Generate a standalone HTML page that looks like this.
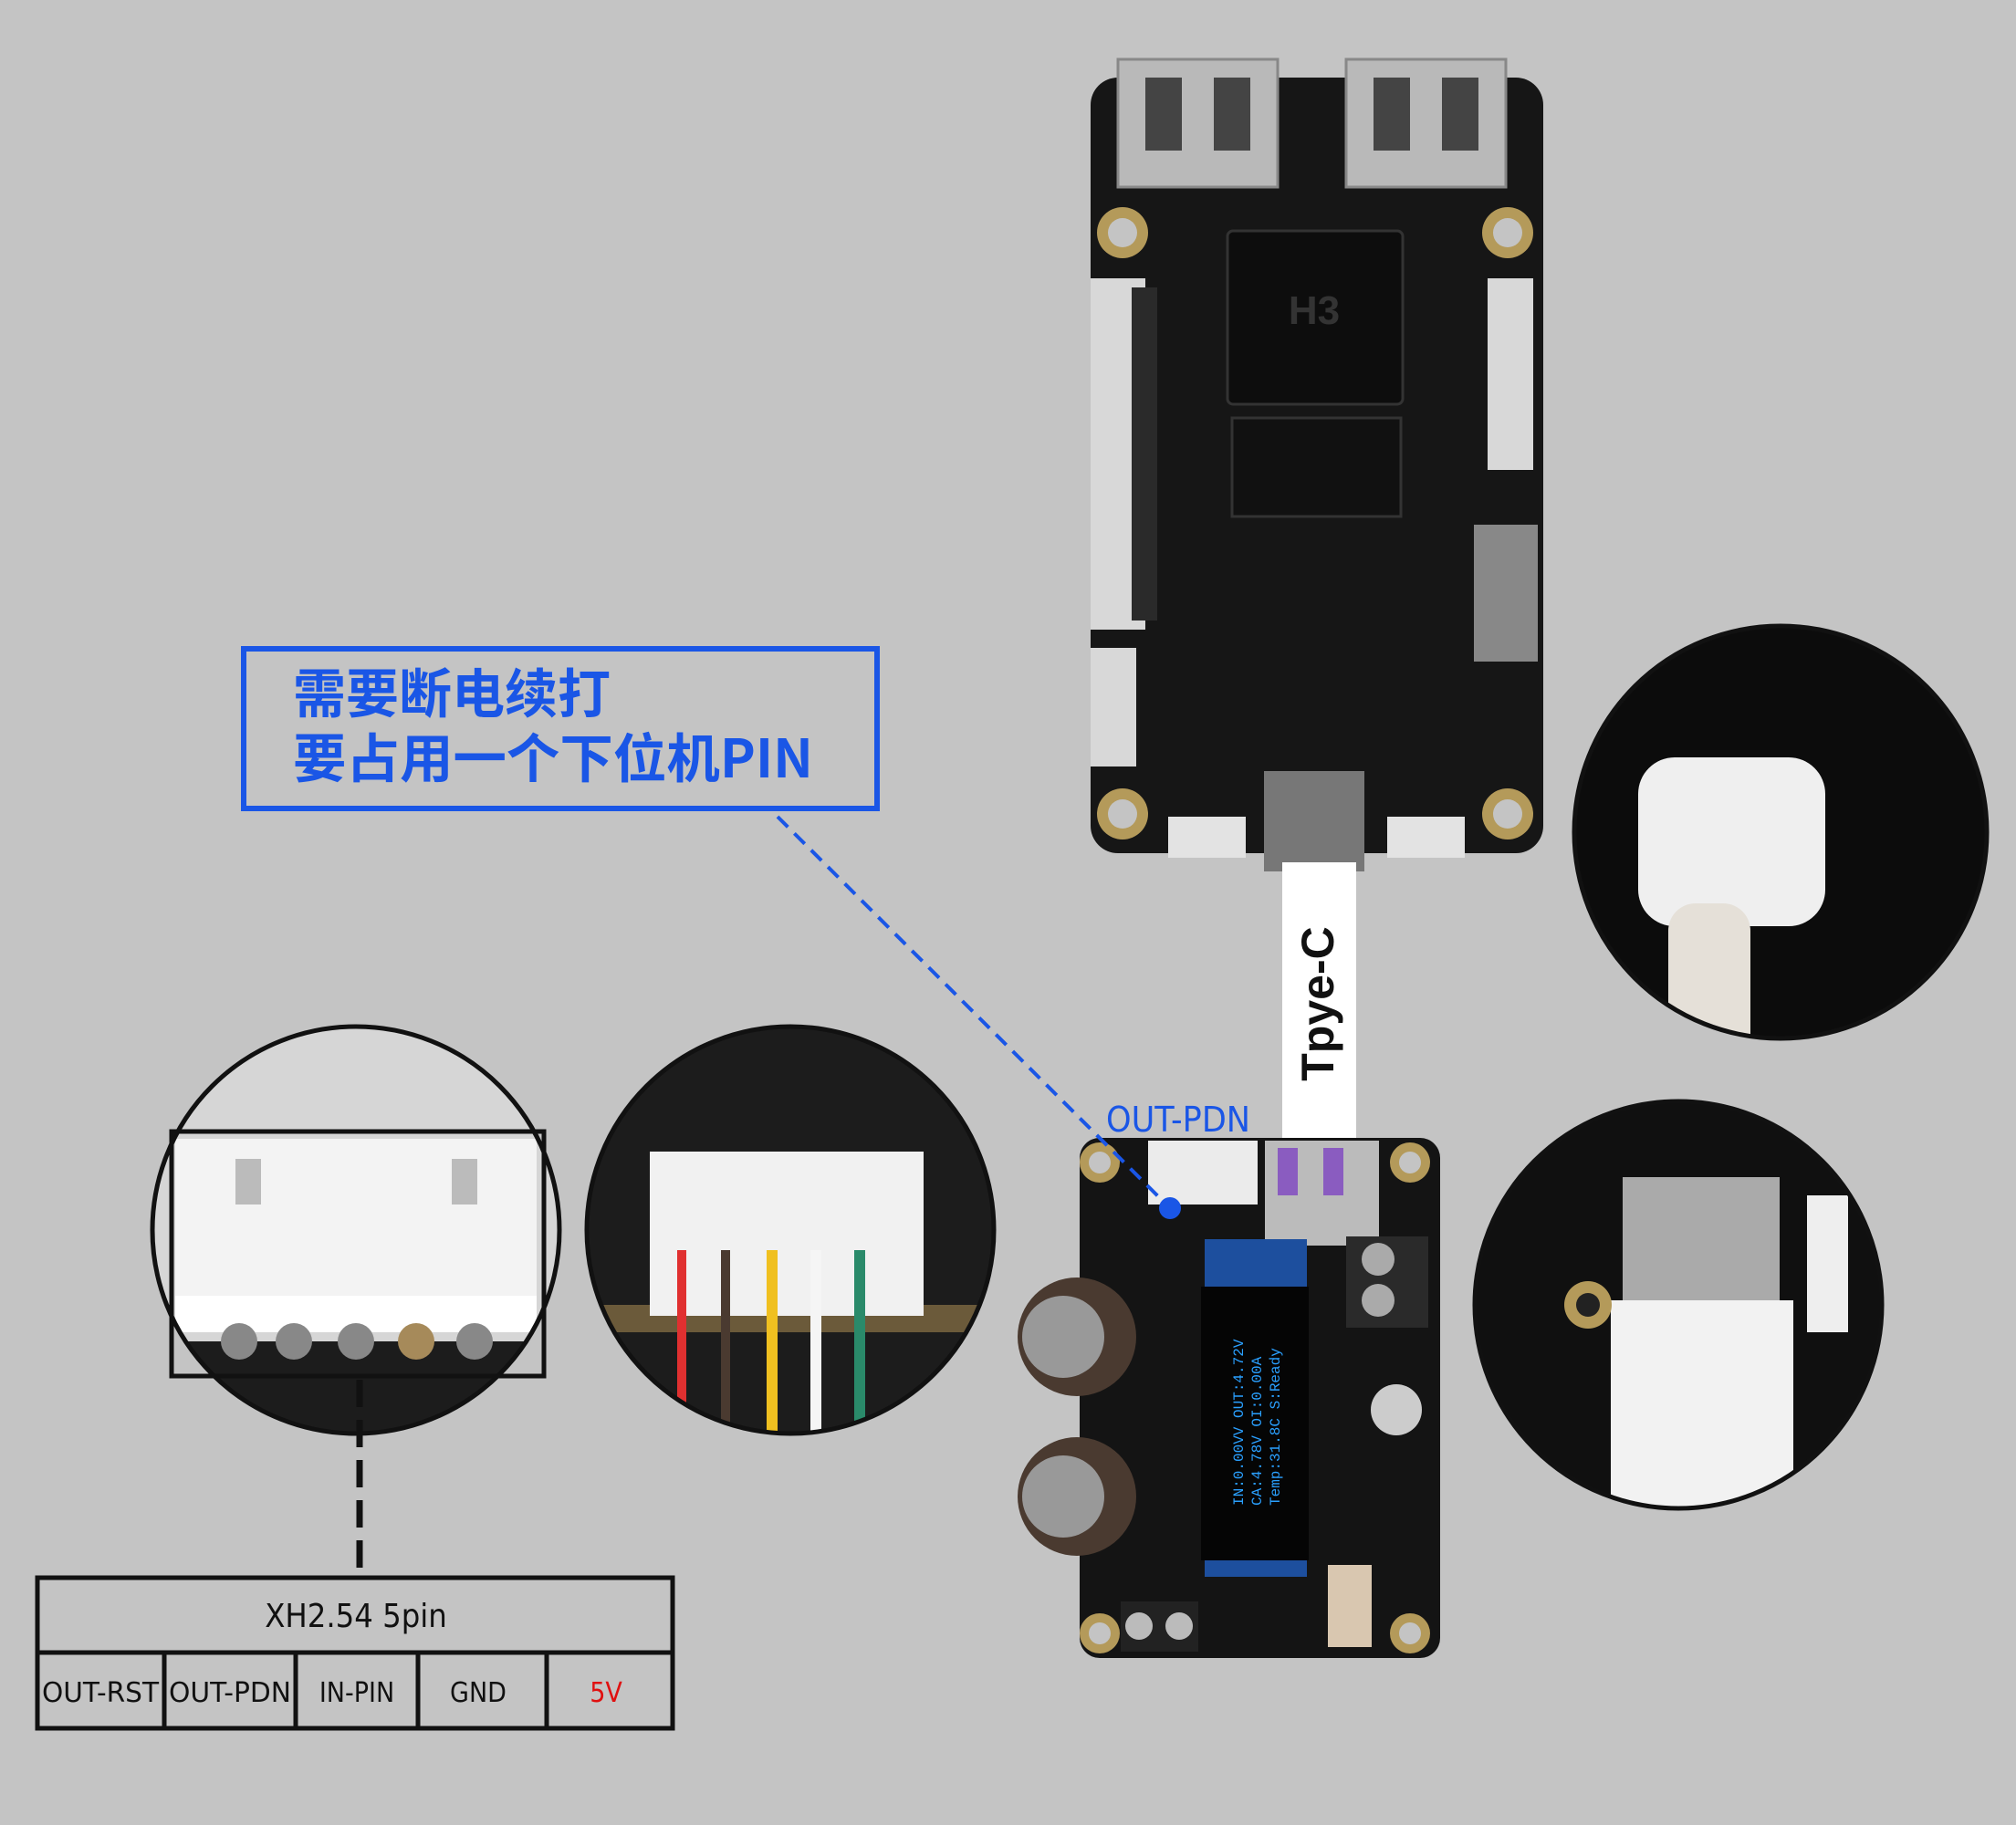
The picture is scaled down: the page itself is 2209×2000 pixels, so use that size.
<!DOCTYPE html>
<html><head><meta charset="utf-8"><style>
html,body{margin:0;padding:0;}
body{width:2209px;height:2000px;background:#c4c4c4;position:relative;overflow:hidden;font-family:"Liberation Sans","Noto Sans CJK SC",sans-serif;}
.a{position:absolute;}
</style></head><body>
<svg class="a" style="left:0;top:0" width="2209" height="2000" viewBox="0 0 2209 2000">
<defs>
<clipPath id="c1"><circle cx="390" cy="1348" r="222"/></clipPath>
<clipPath id="c2"><circle cx="866" cy="1348" r="222"/></clipPath>
<clipPath id="c3"><circle cx="1951" cy="912" r="225"/></clipPath>
<clipPath id="c4"><circle cx="1839" cy="1430" r="222"/></clipPath>
</defs>
<!-- top board -->
<rect x="1195" y="85" width="496" height="850" rx="30" fill="#161616"/>
<rect x="1225" y="65" width="175" height="140" fill="#b9b9b9" stroke="#888" stroke-width="3"/>
<rect x="1475" y="65" width="175" height="140" fill="#b9b9b9" stroke="#888" stroke-width="3"/>
<rect x="1255" y="85" width="40" height="80" fill="#444"/><rect x="1330" y="85" width="40" height="80" fill="#444"/>
<rect x="1505" y="85" width="40" height="80" fill="#444"/><rect x="1580" y="85" width="40" height="80" fill="#444"/>
<circle cx="1230" cy="255" r="28" fill="#b49a5a"/><circle cx="1230" cy="255" r="16" fill="#c4c4c4"/>
<circle cx="1652" cy="255" r="28" fill="#b49a5a"/><circle cx="1652" cy="255" r="16" fill="#c4c4c4"/>
<circle cx="1230" cy="892" r="28" fill="#b49a5a"/><circle cx="1230" cy="892" r="16" fill="#c4c4c4"/>
<circle cx="1652" cy="892" r="28" fill="#b49a5a"/><circle cx="1652" cy="892" r="16" fill="#c4c4c4"/>
<rect x="1195" y="305" width="60" height="385" fill="#d8d8d8"/><rect x="1240" y="315" width="28" height="365" fill="#2a2a2a"/>
<rect x="1630" y="305" width="50" height="210" fill="#d8d8d8"/>
<rect x="1195" y="710" width="50" height="130" fill="#d8d8d8"/>
<rect x="1345" y="253" width="192" height="190" rx="6" fill="#0d0d0d" stroke="#333" stroke-width="3"/>
<text x="1440" y="355" font-size="44" font-weight="bold" fill="#333" text-anchor="middle">H3</text>
<rect x="1350" y="458" width="185" height="108" fill="#111" stroke="#333" stroke-width="3"/>
<rect x="1615" y="575" width="70" height="150" fill="#888"/>
<rect x="1385" y="845" width="110" height="110" fill="#777"/>
<rect x="1280" y="895" width="85" height="45" fill="#e3e3e3"/><rect x="1520" y="895" width="85" height="45" fill="#e3e3e3"/>
<!-- cable -->
<rect x="1405" y="945" width="81" height="302" fill="#fff"/>
<text transform="translate(1461,1100) rotate(-90)" font-size="50" font-weight="bold" fill="#111" text-anchor="middle">Tpye-C</text>
<!-- bottom board -->
<rect x="1183" y="1247" width="395" height="570" rx="22" fill="#141414"/>
<rect x="1258" y="1250" width="120" height="70" fill="#ebebeb"/>
<rect x="1386" y="1250" width="125" height="115" fill="#bbb"/>
<rect x="1400" y="1258" width="22" height="52" fill="#8a5cc0"/><rect x="1450" y="1258" width="22" height="52" fill="#8a5cc0"/>
<circle cx="1205" cy="1274" r="22" fill="#b49a5a"/><circle cx="1205" cy="1274" r="12" fill="#c4c4c4"/>
<circle cx="1545" cy="1274" r="22" fill="#b49a5a"/><circle cx="1545" cy="1274" r="12" fill="#c4c4c4"/>
<circle cx="1205" cy="1790" r="22" fill="#b49a5a"/><circle cx="1205" cy="1790" r="12" fill="#c4c4c4"/>
<circle cx="1545" cy="1790" r="22" fill="#b49a5a"/><circle cx="1545" cy="1790" r="12" fill="#c4c4c4"/>
<rect x="1320" y="1358" width="112" height="370" fill="#1d4f9e"/>
<rect x="1316" y="1410" width="118" height="300" fill="#050505"/>
<text transform="translate(1362,1650) rotate(-90)" font-size="16" fill="#2aa0ff" font-family="Liberation Mono">IN:0.00VV OUT:4.72V</text>
<text transform="translate(1382,1650) rotate(-90)" font-size="16" fill="#2aa0ff" font-family="Liberation Mono">CA:4.78V OI:0.00A</text>
<text transform="translate(1402,1650) rotate(-90)" font-size="16" fill="#2aa0ff" font-family="Liberation Mono">Temp:31.8C S:Ready</text>
<circle cx="1180" cy="1465" r="65" fill="#4a3a30"/><circle cx="1165" cy="1465" r="45" fill="#999"/>
<circle cx="1180" cy="1640" r="65" fill="#4a3a30"/><circle cx="1165" cy="1640" r="45" fill="#999"/>
<rect x="1475" y="1355" width="90" height="100" fill="#2a2a2a"/>
<circle cx="1510" cy="1380" r="18" fill="#aaa"/><circle cx="1510" cy="1425" r="18" fill="#aaa"/>
<rect x="1228" y="1755" width="85" height="55" fill="#222"/>
<circle cx="1248" cy="1782" r="15" fill="#bbb"/><circle cx="1292" cy="1782" r="15" fill="#bbb"/>
<rect x="1455" y="1715" width="48" height="90" fill="#d9c7b0"/>
<circle cx="1530" cy="1545" r="28" fill="#ccc"/>
<!-- blue box + dashed line -->
<rect x="267" y="711" width="694" height="175" fill="none" stroke="#1a56e6" stroke-width="6"/>
<line x1="852" y1="895" x2="1282" y2="1324" stroke="#1a56e6" stroke-width="4" stroke-dasharray="16,10"/>
<circle cx="1282" cy="1324" r="12" fill="#1a56e6"/>
<!-- circle 1 -->
<g clip-path="url(#c1)">
<rect x="160" y="1120" width="460" height="460" fill="#d6d6d6"/>
<rect x="160" y="1470" width="460" height="110" fill="#1c1c1c"/>
<rect x="192" y="1248" width="396" height="210" fill="#f3f3f3"/>
<rect x="258" y="1270" width="28" height="50" fill="#bbb"/><rect x="495" y="1270" width="28" height="50" fill="#bbb"/>
<rect x="192" y="1420" width="396" height="40" fill="#fff"/>
<circle cx="262" cy="1470" r="20" fill="#888"/><circle cx="322" cy="1470" r="20" fill="#888"/><circle cx="390" cy="1470" r="20" fill="#888"/><circle cx="456" cy="1470" r="20" fill="#a68a5a"/><circle cx="520" cy="1470" r="20" fill="#888"/>
</g>
<circle cx="390" cy="1348" r="223" fill="none" stroke="#111" stroke-width="5"/>
<rect x="188" y="1240" width="408" height="268" fill="none" stroke="#111" stroke-width="5"/>
<line x1="394" y1="1512" x2="394" y2="1728" stroke="#111" stroke-width="7" stroke-dasharray="30,14"/>
<!-- circle 2 -->
<g clip-path="url(#c2)">
<rect x="640" y="1120" width="460" height="460" fill="#1c1c1c"/>
<rect x="640" y="1430" width="460" height="30" fill="#6b5a3a"/>
<rect x="712" y="1262" width="300" height="180" fill="#f1f1f1"/>
<rect x="742" y="1370" width="10" height="200" fill="#e03030"/>
<rect x="790" y="1370" width="10" height="200" fill="#4a3a30"/>
<rect x="840" y="1370" width="12" height="200" fill="#f0c020"/>
<rect x="888" y="1370" width="12" height="200" fill="#f5f5f5"/>
<rect x="936" y="1370" width="12" height="200" fill="#2a8a6a"/>
</g>
<circle cx="866" cy="1348" r="223" fill="none" stroke="#111" stroke-width="5"/>
<!-- circle 3 -->
<g clip-path="url(#c3)">
<rect x="1720" y="680" width="470" height="470" fill="#0c0c0c"/>
<rect x="1795" y="830" width="205" height="185" rx="40" fill="#efefef"/>
<rect x="1828" y="990" width="90" height="180" rx="30" fill="#e5e0d8"/>
</g>
<circle cx="1951" cy="912" r="226" fill="none" stroke="#111" stroke-width="5"/>
<!-- circle 4 -->
<g clip-path="url(#c4)">
<rect x="1610" y="1200" width="460" height="460" fill="#101010"/>
<rect x="1778" y="1290" width="172" height="165" fill="#aaa"/>
<rect x="1765" y="1425" width="200" height="230" fill="#f2f2f2"/>
<rect x="1980" y="1310" width="45" height="150" fill="#eee"/>
<circle cx="1740" cy="1430" r="26" fill="#b49a5a"/><circle cx="1740" cy="1430" r="13" fill="#222"/>
</g>
<circle cx="1839" cy="1430" r="223" fill="none" stroke="#111" stroke-width="5"/>
<!-- table -->
<rect x="41" y="1729" width="696" height="165" fill="none" stroke="#111" stroke-width="5"/>
<line x1="41" y1="1811" x2="737" y2="1811" stroke="#111" stroke-width="5"/>
<line x1="180" y1="1811" x2="180" y2="1894" stroke="#111" stroke-width="5"/>
<line x1="324" y1="1811" x2="324" y2="1894" stroke="#111" stroke-width="5"/>
<line x1="458" y1="1811" x2="458" y2="1894" stroke="#111" stroke-width="5"/>
<line x1="599" y1="1811" x2="599" y2="1894" stroke="#111" stroke-width="5"/>
<g font-family="DejaVu Sans Condensed, DejaVu Sans, sans-serif" fill="#111" text-anchor="middle">
<text x="390" y="1783" font-size="36">XH2.54 5pin</text>
<text x="110" y="1865" font-size="30" textLength="128" lengthAdjust="spacingAndGlyphs">OUT-RST</text>
<text x="252" y="1865" font-size="30" textLength="134" lengthAdjust="spacingAndGlyphs">OUT-PDN</text>
<text x="391" y="1865" font-size="30">IN-PIN</text>
<text x="524" y="1865" font-size="30">GND</text>
<text x="664" y="1865" font-size="30" fill="#e01010">5V</text>
<text x="1291" y="1240" font-size="38" fill="#1a56e6" textLength="158" lengthAdjust="spacingAndGlyphs">OUT-PDN</text>
</g>
<g font-family="'Noto Sans CJK SC',sans-serif" font-weight="bold" fill="#1a56e6" font-size="58">
<text x="321" y="781">需要断电续打</text>
<text x="321" y="852" textLength="570" lengthAdjust="spacingAndGlyphs">要占用一个下位机PIN</text>
</g>
</svg>
</body></html>
